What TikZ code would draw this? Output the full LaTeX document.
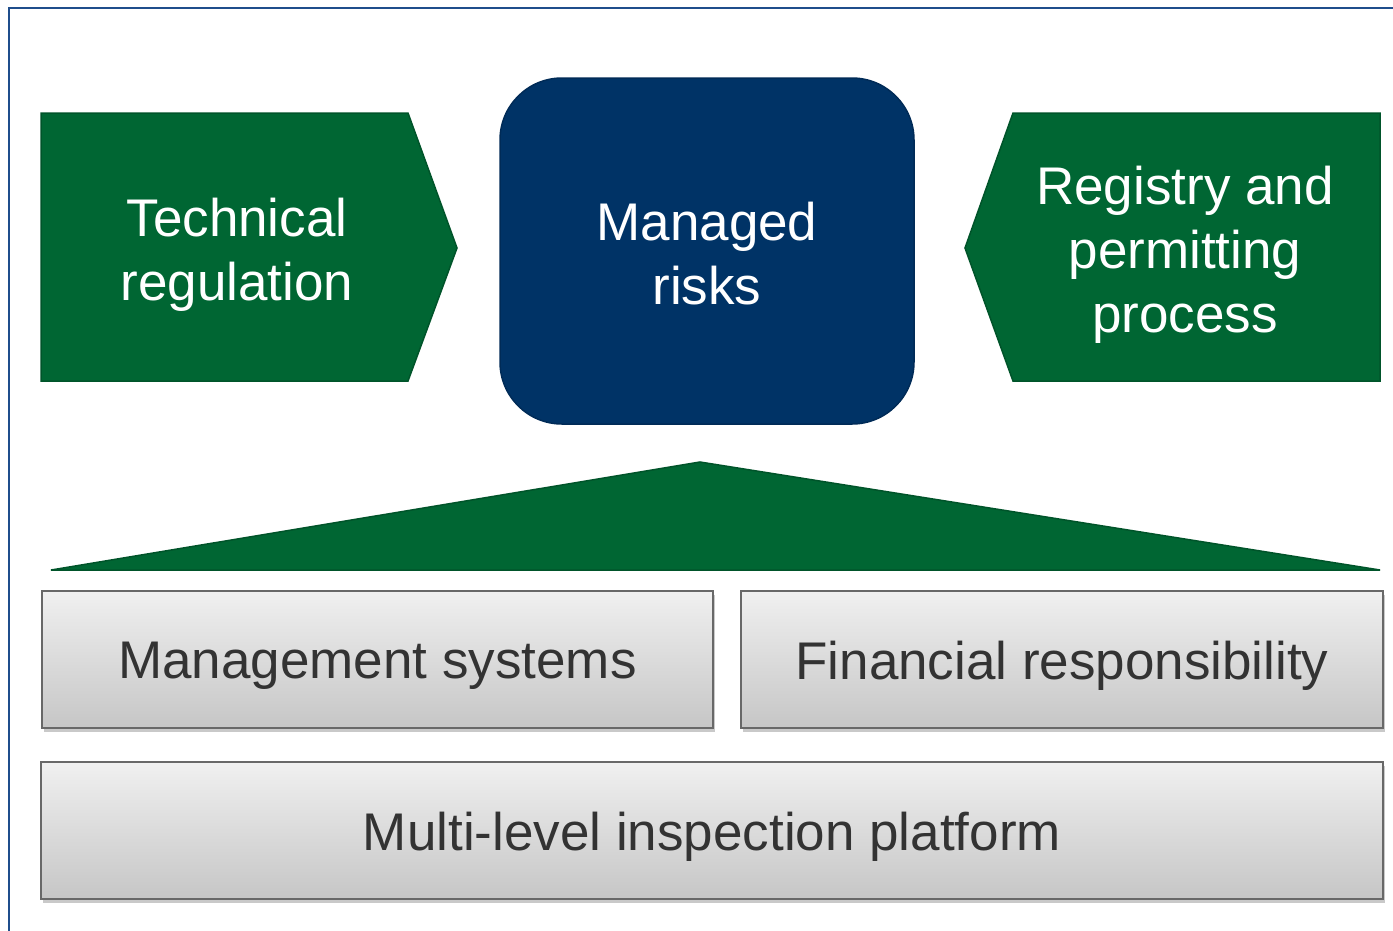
\documentclass[tikz,border=0pt]{standalone}
\usepackage{fontspec}
\setmainfont{Liberation Sans}
\usetikzlibrary{shadows}
\definecolor{frameblue}{HTML}{1F4E8C}
\definecolor{dgreen}{HTML}{006633}
\definecolor{dgreenline}{HTML}{00542A}
\definecolor{navy}{HTML}{003366}
\definecolor{navyline}{HTML}{002B57}
\definecolor{gtop}{HTML}{F0F0F0}
\definecolor{gbot}{HTML}{C6C6C6}
\definecolor{gline}{HTML}{686868}
\definecolor{gtext}{HTML}{333333}
\tikzset{
  bigtext/.style={font=\fontsize{53}{64}\selectfont, align=center},
  greenshape/.style={fill=dgreen, draw=dgreenline, line width=1.5pt, line join=miter},
  graybox/.style={draw=gline, line width=2.5pt, top color=gtop, bottom color=gbot,
    drop shadow={shadow xshift=1.5pt, shadow yshift=-4pt, opacity=0.35, fill=black!60},
    inner sep=0pt},
  graytext/.style={text=gtext, bigtext},
}
\begin{document}
\begin{tikzpicture}[x=1pt,y=-1pt]
\useasboundingbox (0,0) rectangle (1393,930);
% frame
\fill[white] (0,0) rectangle (1393,930);
\draw[frameblue, line width=2pt] (9,935) -- (9,8) -- (1400,8);
% left arrow
\draw[greenshape] (41,113) -- (408,113) -- (457,248) -- (408,381) -- (41,381) -- cycle;
\node[bigtext, text=white] (tech) at (237,255) {Technical\\regulation};
% right arrow
\draw[greenshape] (1013,113) -- (1380,113) -- (1380,381) -- (1013,381) -- (965,248) -- cycle;
\node[bigtext, text=white] (reg) at (1185,255) {Registry and\\permitting\\process};
% managed risks
\node[fill=navy, draw=navyline, line width=1.5pt, rounded corners=62pt,
  minimum width=414pt, minimum height=346pt, inner sep=0pt] (risk) at (707,251) {};
\node[bigtext, text=white] (riskt) at (707,254) {Managed\\risks};
% triangle
\draw[greenshape] (51,570) -- (700,462) -- (1380,570) -- cycle;
% gray boxes
\node[graybox, minimum width=671pt, minimum height=137pt] (mgmt) at (377.5,659.5) {};
\node[graytext] (mgmtt) at (377.5,666) {Management systems};
\node[graybox, minimum width=642pt, minimum height=137pt] (fin) at (1062,659.5) {};
\node[graytext] (fint) at (1062,666) {Financial responsibility};
\node[graybox, minimum width=1342pt, minimum height=137pt] (multi) at (712,830.5) {};
\node[graytext] (multit) at (712,837) {Multi-level inspection platform};
\end{tikzpicture}
\end{document}
